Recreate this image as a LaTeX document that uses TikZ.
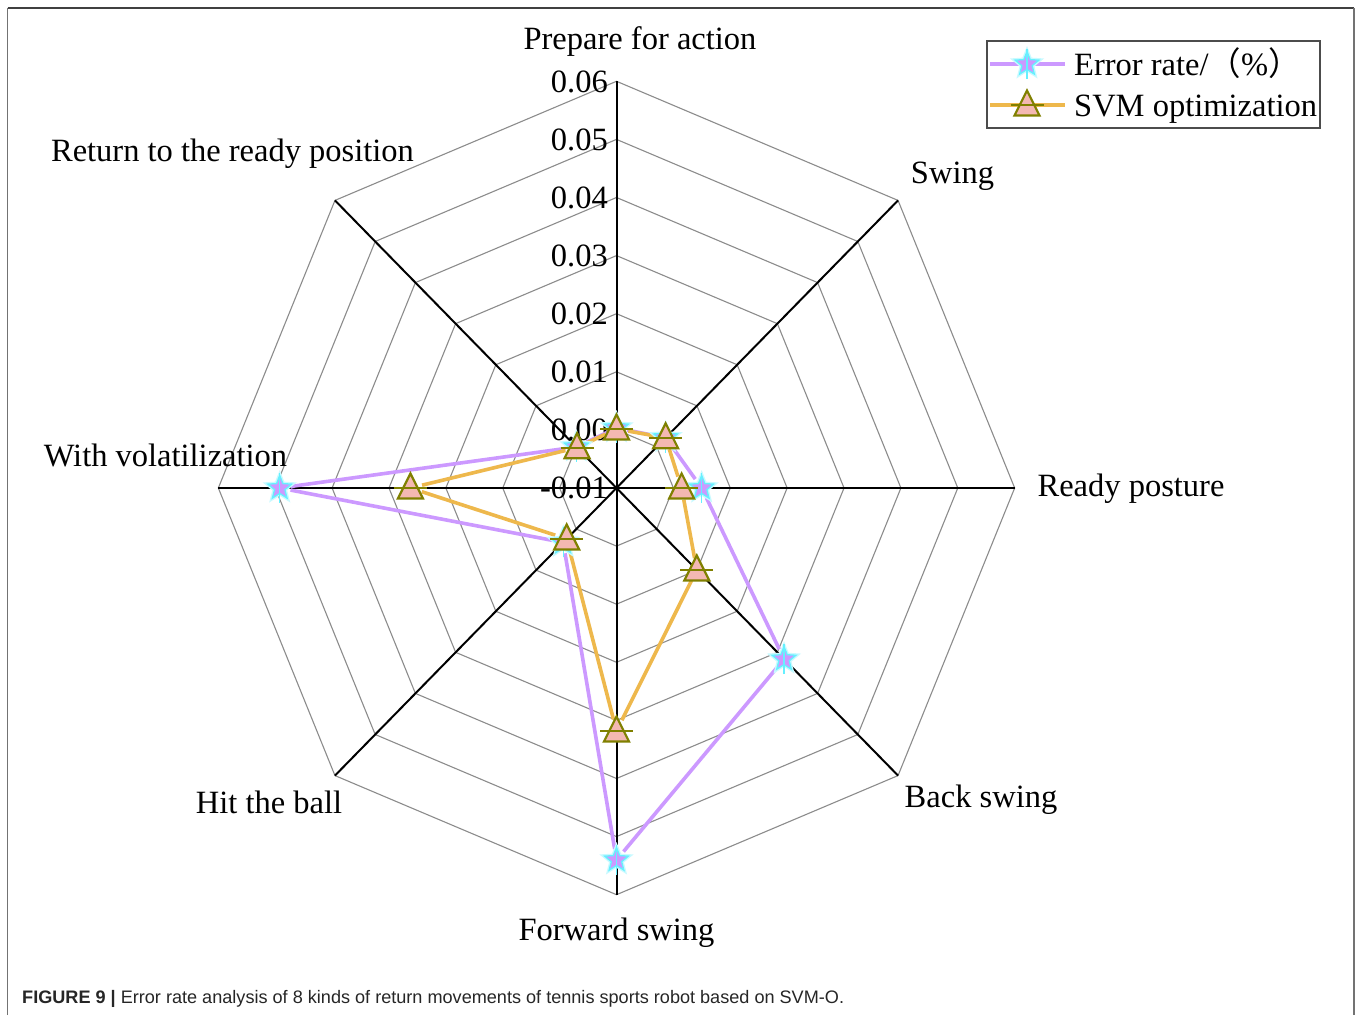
\documentclass[tikz,border=0pt]{standalone}
\usepackage{fontspec}
\setmainfont{Liberation Serif}
\setsansfont{Liberation Sans}
\newfontfamily\cjkfont{Noto Sans CJK SC}
\usetikzlibrary{shapes.geometric}
\definecolor{errc}{RGB}{204,153,255}
\definecolor{svmc}{RGB}{238,184,76}
\definecolor{trifill}{RGB}{244,184,178}
\definecolor{triedge}{RGB}{128,128,0}
\definecolor{starc}{RGB}{102,240,255}
\definecolor{starglow}{RGB}{200,250,255}
\definecolor{gridc}{RGB}{140,140,140}
\def\xs{0.979}
\begin{document}
\begin{tikzpicture}[x=1pt,y=1pt,
  lbl/.style={font=\fontsize{32.5}{39}\selectfont, inner sep=0pt},
  gridline/.style={draw=gridc, line width=1.1pt},
  axisline/.style={draw=black, line width=2pt},
  errline/.style={draw=errc, line width=3.6pt, shorten >=11pt, shorten <=11pt},
  svmline/.style={draw=svmc, line width=3.6pt, shorten >=12pt, shorten <=12pt},
  starmark/.style={star, star points=5, star point ratio=2.3, minimum size=25pt, inner sep=0pt, fill=errc, draw=starc, line width=1.3pt},
  starhalo/.style={star, star points=5, star point ratio=2.3, minimum size=25pt, inner sep=0pt, draw=starglow, line width=4pt},
  trimark/.style={fill=trifill, draw=triedge, line width=2.2pt, line join=miter},
  triline/.style={draw=triedge, line width=2.2pt},
  frameline/.style={draw=black!55, line width=1.6pt}]
\useasboundingbox (0,0) rectangle (1357,1015);
\fill[white] (0,0) rectangle (1357,1015);
% outer frame
\coordinate (F1) at (7.5,0);
\coordinate (F2) at (7.5,1007);
\coordinate (F3) at (1354,1007);
\coordinate (F4) at (1354,0);
\draw[frameline] (F1) -- (F2);
\draw[frameline, draw=black!75] (F2) -- (F3);
\draw[frameline] (F3) -- (F4);
% centre and grid
\coordinate (O) at (616.5,527);
\foreach \k in {1,...,7} {
  \draw[gridline] \foreach \a [count=\n] in {90,45,0,-45,-90,-135,180,135} {
      \ifnum\n=1 ([shift={({\k*58.1*\xs*cos(\a)},{\k*58.1*sin(\a)})}]O) \else -- ([shift={({\k*58.1*\xs*cos(\a)},{\k*58.1*sin(\a)})}]O) \fi
    } -- cycle;
}
\foreach \a [count=\i] in {90,45,0,-45,-90,-135,180,135} {
  \coordinate (A\i) at ([shift={({406.7*\xs*cos(\a)},{406.7*sin(\a)})}]O);
  \draw[axisline] (O) -- (A\i);
}
% tick labels
\foreach \k/\t in {0/-0.01,1/0.00,2/0.01,3/0.02,4/0.03,5/0.04,6/0.05,7/0.06} {
  \node[lbl, anchor=base east] (tk\k) at (608,{516+\k*58.1}) {\t};
}
% category labels
\node[lbl, anchor=base] (c1) at (640,965) {Prepare for action};
\node[lbl, anchor=base] (c2) at (952.5,831) {Swing};
\node[lbl, anchor=base] (c3) at (1131,518) {Ready posture};
\node[lbl, anchor=base] (c4) at (981,207) {Back swing};
\node[lbl, anchor=base] (c5) at (616.5,75) {Forward swing};
\node[lbl, anchor=base] (c6) at (269,201) {Hit the ball};
\node[lbl, anchor=base] (c7) at (165.5,548) {With volatilization};
\node[lbl, anchor=base] (c8) at (232.5,853) {Return to the ready position};
% data points (radius in vertical pixel units)
\foreach \a/\re/\rs [count=\i] in {90/60/59,45/71/71,0/87/66.5,-45/242/116,-90/372/243,-135/77/72,180/344/210.5,135/58/57} {
  \coordinate (E\i) at ([shift={({\re*\xs*cos(\a)},{\re*sin(\a)})}]O);
  \coordinate (S\i) at ([shift={({\rs*\xs*cos(\a)},{\rs*sin(\a)})}]O);
}
\foreach \i/\j in {1/2,2/3,3/4,4/5,5/6,6/7,7/8,8/1} {
  \draw[errline] (E\i) -- (E\j);
}
\foreach \i/\j in {1/2,2/3,3/4,4/5,5/6,6/7,7/8,8/1} {
  \draw[svmline] (S\i) -- (S\j);
}
\foreach \i in {1,...,8} {
  \node[starhalo] (H\i) at (E\i) {};
  \node[starmark] (M\i) at (E\i) {};
  \draw[draw=starc, line width=1.2pt] ([yshift=-15pt]E\i) -- ([yshift=15pt]E\i);
}
\foreach \i in {1,...,8} {
  \draw[trimark] ([shift={(0,14.5)}]S\i) -- ([shift={(12.5,-10.5)}]S\i) -- ([shift={(-12.5,-10.5)}]S\i) -- cycle;
  \draw[triline] ([xshift=-16.5pt]S\i) -- ([xshift=16.5pt]S\i);
}
% legend
\node[draw=black!70, line width=1.3pt, minimum width=333pt, minimum height=87pt, inner sep=0pt] (legbox) at (1153.5,930.5) {};
\coordinate (La) at (990,951);
\coordinate (Lb) at (1065,951);
\coordinate (Lm) at (1027,951);
\draw[draw=errc, line width=3.6pt] (La) -- (Lb);
\node[starhalo] (LH) at (Lm) {};
\node[starmark] (LS) at (Lm) {};
\draw[draw=starc, line width=1.2pt] ([yshift=-15pt]Lm) -- ([yshift=15pt]Lm);
\node[lbl, anchor=base west] (lt1) at (1074,939) {Error rate/{\cjkfont （}\%{\cjkfont ）}};
\coordinate (Lc) at (990,910);
\coordinate (Ld) at (1065,910);
\coordinate (Ln) at (1027,910);
\draw[draw=svmc, line width=3.6pt] (Lc) -- (Ld);
\draw[trimark] ([shift={(0,14.5)}]Ln) -- ([shift={(12.5,-10.5)}]Ln) -- ([shift={(-12.5,-10.5)}]Ln) -- cycle;
\draw[triline] ([xshift=-16.5pt]Ln) -- ([xshift=16.5pt]Ln);
\node[lbl, anchor=base west] (lt2) at (1074,898) {SVM optimization};
% caption
\node[anchor=base west, inner sep=0pt, text=black!85, font=\sffamily\fontsize{18.1}{21}\selectfont] (cap) at (22,11.5) {\textbf{FIGURE 9 |} Error rate analysis of 8 kinds of return movements of tennis sports robot based on SVM-O.};
\end{tikzpicture}
\end{document}
